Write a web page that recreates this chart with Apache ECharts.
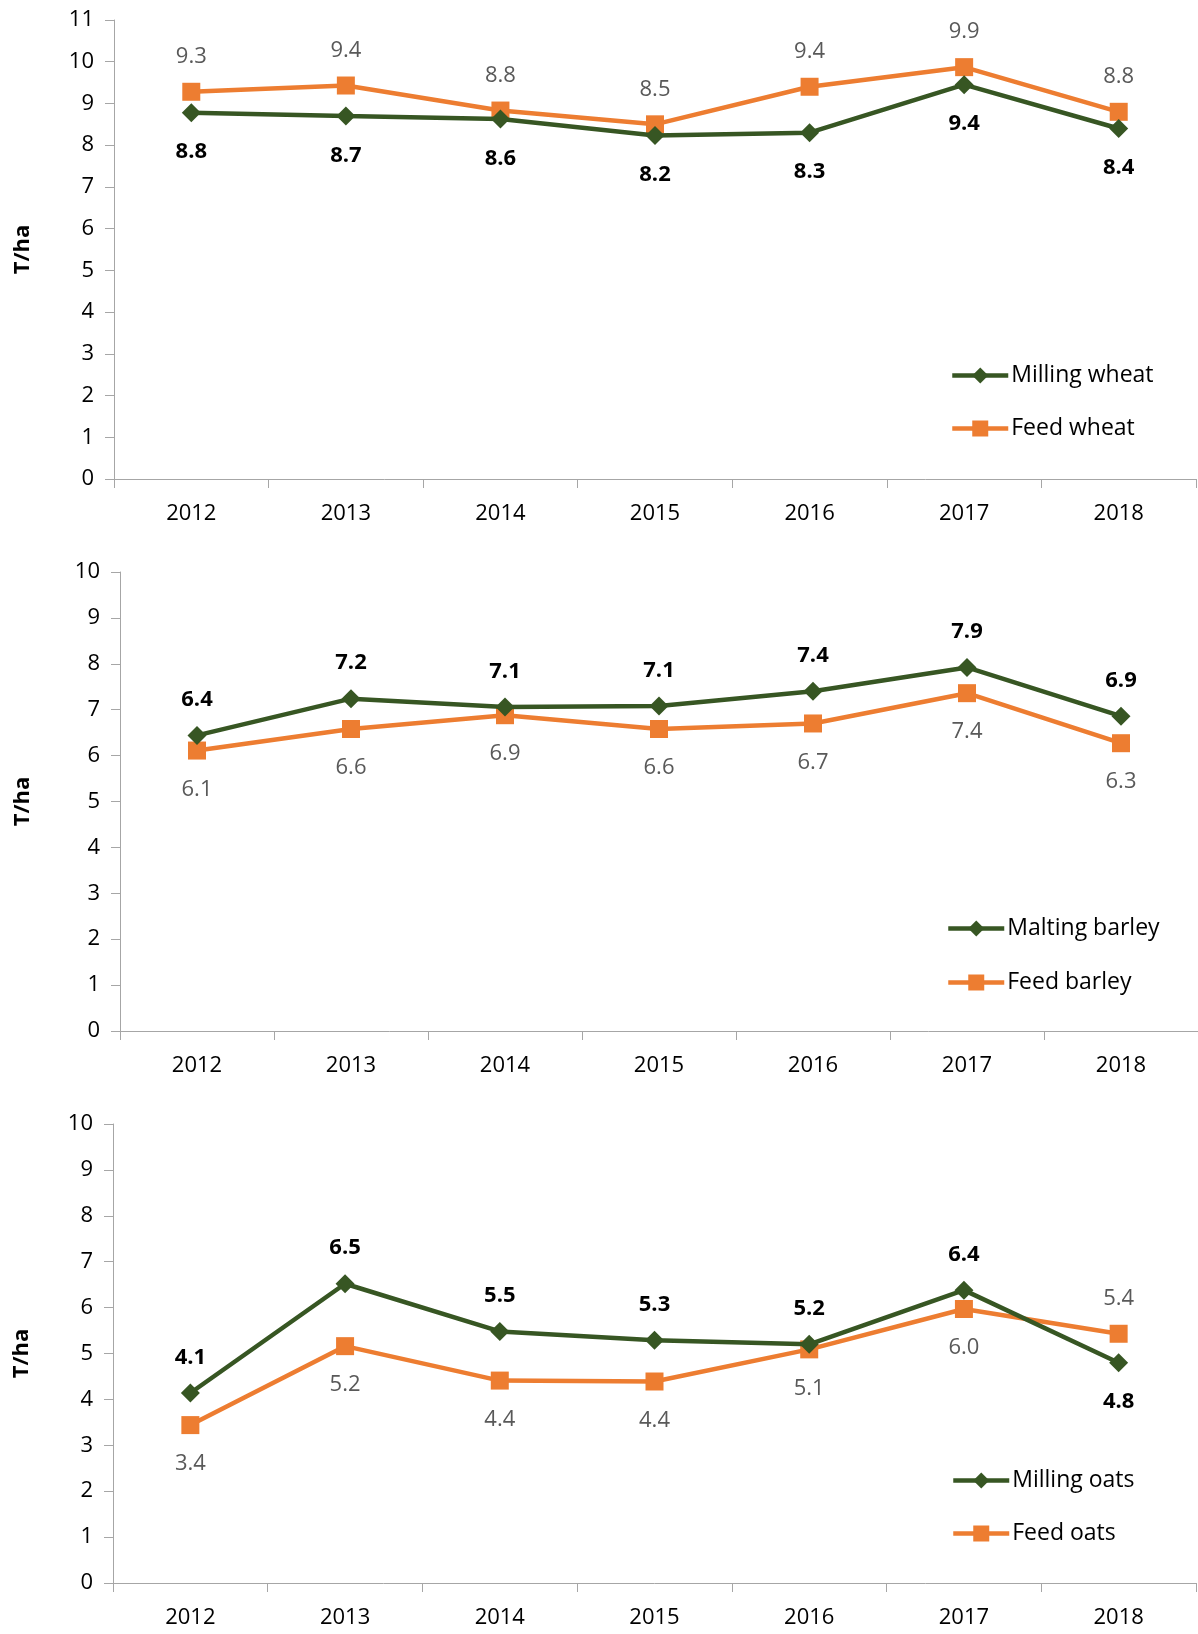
<!DOCTYPE html>
<html>
<head>
<meta charset="utf-8">
<script src="https://cdn.jsdelivr.net/npm/echarts@6/dist/echarts.min.js"></script>
<style>
html,body{margin:0;padding:0;background:#fff;}
#c{width:1198px;height:1634px;}
</style>
</head>
<body>
<div id="c"></div>
<script>
var years = ['2012','2013','2014','2015','2016','2017','2018'];

var millingWheat = [8.78, 8.70, 8.63, 8.23, 8.30, 9.45, 8.40];
var feedWheat    = [9.28, 9.43, 8.83, 8.50, 9.40, 9.87, 8.80];

var maltingBarley = [6.44, 7.24, 7.06, 7.08, 7.40, 7.92, 6.86];
var feedBarley    = [6.11, 6.58, 6.88, 6.58, 6.70, 7.36, 6.27];

var millingOats = [4.14, 6.52, 5.48, 5.29, 5.20, 6.38, 4.80];
var feedOats    = [3.44, 5.16, 4.41, 4.39, 5.09, 5.97, 5.43];

var panelNames = [
  ['Milling wheat', 'Feed wheat'],
  ['Malting barley', 'Feed barley'],
  ['Milling oats', 'Feed oats']
];
var yMax = [11, 10, 10];
var yTitle = 'T/ha';

var FONT = 'Open Sans';
var GREEN = '#375623';
var ORANGE = '#ED7D31';

var grids = [
  {left: 114, top: 20, right: 2, height: 459},
  {left: 120, top: 572, right: -6, height: 459},
  {left: 113, top: 1124, right: 2, height: 459}
];
var nameGaps = [80, 86, 80];
var legendPos = [
  {left: 950, y1: 375, y2: 428},
  {left: 946, y1: 928, y2: 982},
  {left: 951, y1: 1480, y2: 1533}
];
var panelData = [
  [millingWheat, feedWheat],
  [maltingBarley, feedBarley],
  [millingOats, feedOats]
];

var xAxes = [], yAxes = [], series = [], legends = [];
panelData.forEach(function (pd, i) {
  xAxes.push({
    type: 'category', gridIndex: i, data: years, boundaryGap: true,
    axisLine: {lineStyle: {color: '#A6A6A6', width: 1}},
    axisTick: {show: true, length: 9, lineStyle: {color: '#A6A6A6'}},
    axisLabel: {color: '#000', fontFamily: FONT, fontSize: 22, margin: 24}
  });
  yAxes.push({
    type: 'value', gridIndex: i, min: 0, max: yMax[i], interval: 1,
    name: yTitle, nameLocation: 'middle', nameGap: nameGaps[i], nameRotate: 90,
    nameTextStyle: {color: '#000', fontFamily: FONT, fontSize: 22, fontWeight: 'bold'},
    axisLine: {show: true, lineStyle: {color: '#A6A6A6', width: 1}},
    axisTick: {show: true, length: 9, lineStyle: {color: '#A6A6A6'}},
    axisLabel: {color: '#000', fontFamily: FONT, fontSize: 22, margin: 20},
    splitLine: {show: false}
  });
  var a = pd[0], b = pd[1];
  var greenData = a.map(function (v, k) {
    var above = v > b[k];
    return {value: v, label: {position: above ? 'top' : 'bottom', distance: above ? 15 : 19}};
  });
  var orangeData = b.map(function (v, k) {
    var above = v >= a[k];
    return {value: v, label: {position: above ? 'top' : 'bottom', distance: above ? 15 : 19}};
  });
  series.push({
    name: panelNames[i][0], type: 'line', xAxisIndex: i, yAxisIndex: i,
    data: greenData, symbol: 'diamond', symbolSize: 19, z: 3,
    lineStyle: {color: GREEN, width: 4.5}, itemStyle: {color: GREEN},
    label: {show: true, color: '#000', fontWeight: 'bold', fontFamily: FONT, fontSize: 22,
      formatter: function (p) { return p.value.toFixed(1); }}
  });
  series.push({
    name: panelNames[i][1], type: 'line', xAxisIndex: i, yAxisIndex: i,
    data: orangeData, symbol: 'rect', symbolSize: 18, z: 2,
    lineStyle: {color: ORANGE, width: 4.5}, itemStyle: {color: ORANGE},
    label: {show: true, color: '#595959', fontFamily: FONT, fontSize: 22,
      formatter: function (p) { return p.value.toFixed(1); }}
  });
  var lp = legendPos[i];
  [[panelNames[i][0], lp.y1], [panelNames[i][1], lp.y2]].forEach(function (it) {
    legends.push({
      data: [it[0]], left: lp.left, top: it[1] - 11, orient: 'vertical',
      itemWidth: 56, itemHeight: 20, itemGap: 4, padding: 0, selectedMode: false,
      lineStyle: {width: 4.5},
      textStyle: {color: '#000', fontFamily: FONT, fontSize: 23, lineHeight: 22, padding: [0, 0, 0, -2]}
    });
  });
});

var chart = echarts.init(document.getElementById('c'), null, {renderer: 'canvas'});
chart.setOption({
  animation: false,
  backgroundColor: '#fff',
  grid: grids,
  xAxis: xAxes,
  yAxis: yAxes,
  legend: legends,
  series: series
});
</script>
</body>
</html>
